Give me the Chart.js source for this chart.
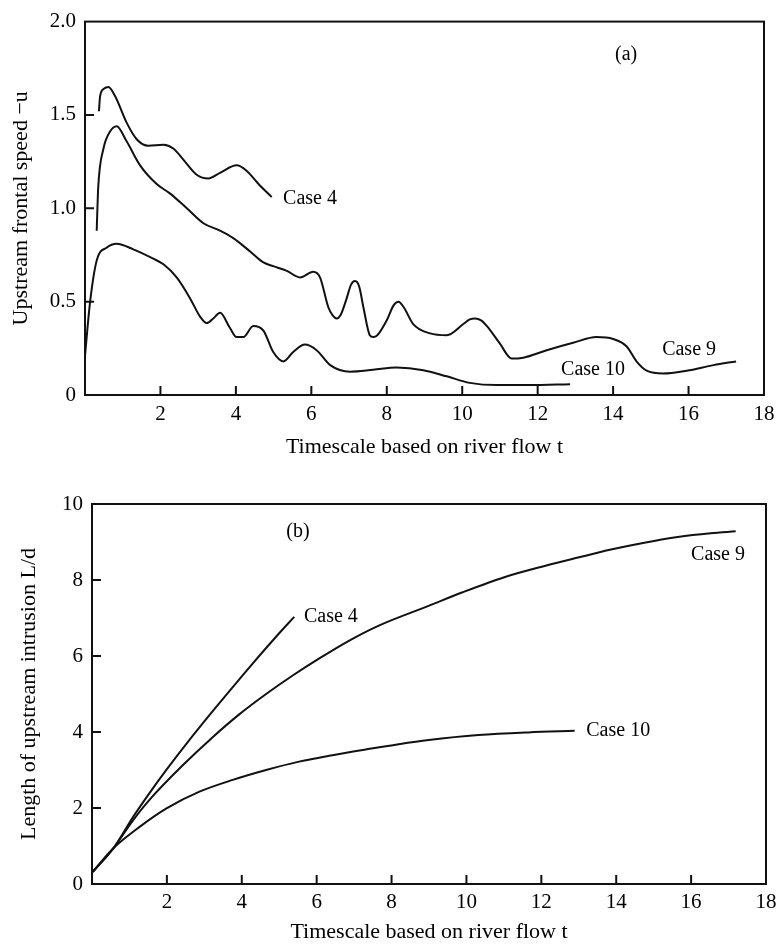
<!DOCTYPE html>
<html><head><meta charset="utf-8">
<script src="https://cdn.jsdelivr.net/npm/chart.js@4.4.0/dist/chart.umd.min.js"></script>
<style>
html,body{margin:0;padding:0;background:#fff;overflow:hidden;}
#wrap{position:relative;width:776px;height:949px;overflow:hidden;background:#fff;}
canvas{position:absolute;left:0;}
#ca{top:0;} #cb{top:470px;}
</style></head><body>
<div id="wrap"><canvas id="ca" width="800" height="470"></canvas><canvas id="cb" width="800" height="479"></canvas></div>
<script>
// ---------- Panel (a): upstream frontal speed -u ----------
const case4A_t = [0.37, 0.40, 0.50, 0.62, 0.80, 1.10, 1.37, 1.68, 2.08, 2.34, 2.65, 2.96, 3.27, 3.58, 4.02, 4.29, 4.60, 4.95];
const case4A_u = [1.52, 1.60, 1.64, 1.65, 1.60, 1.46, 1.37, 1.335, 1.34, 1.32, 1.25, 1.18, 1.16, 1.19, 1.23, 1.20, 1.13, 1.06];

const case9A_t = [0.31, 0.35, 0.49, 0.66, 0.84, 1.10, 1.46, 1.90, 2.25, 2.70, 3.14, 3.58, 3.93, 4.37, 4.73, 4.99, 5.35, 5.70, 6.05, 6.23, 6.45, 6.57, 6.67, 6.78, 6.94, 7.05, 7.16, 7.27, 7.38, 7.55, 7.64, 7.75, 8.00, 8.18, 8.31, 8.45, 8.70, 9.15, 9.59, 10.03, 10.20, 10.34, 10.50, 10.65, 11.00, 11.31, 11.62, 12.24, 12.94, 13.56, 14.00, 14.36, 14.62, 14.89, 15.33, 15.95, 16.66, 17.26];
const case9A_u = [0.88, 1.11, 1.32, 1.41, 1.44, 1.36, 1.23, 1.13, 1.08, 1.00, 0.92, 0.88, 0.84, 0.77, 0.71, 0.69, 0.665, 0.63, 0.66, 0.63, 0.47, 0.425, 0.41, 0.43, 0.52, 0.59, 0.61, 0.58, 0.47, 0.32, 0.31, 0.32, 0.40, 0.48, 0.50, 0.47, 0.38, 0.33, 0.32, 0.38, 0.405, 0.41, 0.40, 0.37, 0.275, 0.195, 0.20, 0.24, 0.28, 0.31, 0.30, 0.26, 0.18, 0.13, 0.115, 0.13, 0.16, 0.18];

const case10A_t = [0.00, 0.13, 0.31, 0.58, 0.84, 1.28, 1.81, 2.08, 2.43, 2.78, 3.05, 3.23, 3.40, 3.58, 3.84, 4.02, 4.20, 4.46, 4.73, 4.99, 5.26, 5.52, 5.83, 6.14, 6.50, 7.03, 7.64, 8.26, 8.97, 9.59, 10.20, 10.91, 11.80, 12.86];
const case10A_u = [0.21, 0.49, 0.72, 0.79, 0.81, 0.78, 0.73, 0.70, 0.63, 0.52, 0.42, 0.385, 0.41, 0.44, 0.36, 0.31, 0.31, 0.37, 0.345, 0.23, 0.18, 0.23, 0.27, 0.24, 0.16, 0.125, 0.135, 0.147, 0.133, 0.10, 0.065, 0.053, 0.053, 0.058];

// ---------- Panel (b): length of upstream intrusion L/d ----------
const case4B_t = [0.02, 0.57, 1.10, 1.54, 1.99, 2.52, 3.00, 3.58, 4.29, 4.91, 5.40];
const case4B_L = [0.32, 0.94, 1.77, 2.40, 3.01, 3.69, 4.28, 4.97, 5.80, 6.50, 7.03];

const case9B_t = [0.02, 0.57, 1.10, 1.54, 2.43, 3.23, 3.94, 4.65, 5.35, 6.06, 6.86, 7.66, 8.99, 9.88, 11.03, 12.09, 12.98, 13.86, 14.75, 15.64, 16.52, 17.19];
const case9B_L = [0.32, 0.94, 1.68, 2.22, 3.13, 3.87, 4.47, 5.00, 5.48, 5.93, 6.40, 6.80, 7.32, 7.67, 8.08, 8.37, 8.59, 8.80, 8.98, 9.13, 9.23, 9.28];

const case10B_t = [0.02, 0.57, 1.28, 1.99, 2.87, 3.76, 4.65, 5.53, 6.42, 7.31, 8.19, 8.99, 10.32, 11.65, 12.89];
const case10B_L = [0.32, 0.94, 1.51, 1.99, 2.43, 2.74, 3.00, 3.22, 3.39, 3.54, 3.68, 3.79, 3.92, 3.99, 4.03];

// ---------- Ticks ----------
const xTickValues = [0, 2, 4, 6, 8, 10, 12, 14, 16, 18];
const xTickLabels = ['', '2', '4', '6', '8', '10', '12', '14', '16', '18'];
const yTickValuesA = [0, 0.5, 1.0, 1.5, 2.0];
const yTickLabelsA = ['0', '0.5', '1.0', '1.5', '2.0'];
const yTickValuesB = [0, 2, 4, 6, 8, 10];
const yTickLabelsB = ['0', '2', '4', '6', '8', '10'];

// ---------- Texts ----------
const xTitle = 'Timescale based on river flow t';
const yTitleA = 'Upstream frontal speed \u2212u';
const yTitleB = 'Length of upstream intrusion L/d';
const notesA = [
  {text: 'Case 4', x: 5.25, y: 1.053},
  {text: 'Case 9', x: 15.3, y: 0.245},
  {text: 'Case 10', x: 12.62, y: 0.133},
  {text: '(a)', x: 14.05, y: 1.82}
];
const notesB = [
  {text: 'Case 4', x: 5.66, y: 7.03},
  {text: 'Case 9', x: 16.0, y: 8.66},
  {text: 'Case 10', x: 13.2, y: 4.03},
  {text: '(b)', x: 5.19, y: 9.26}
];

const FONT = '"Liberation Serif", "DejaVu Serif", serif';
const INK = '#111';

function pts(xs, ys) { return xs.map((v, i) => ({x: v, y: ys[i]})); }

function makeFrame(notes) {
  return {
    id: 'frame',
    afterDraw(chart) {
      const {ctx, chartArea: a, scales: {x, y}} = chart;
      ctx.save();
      ctx.strokeStyle = INK;
      ctx.lineWidth = 2;
      ctx.strokeRect(a.left, a.top, a.right - a.left, a.bottom - a.top);
      ctx.beginPath();
      x.ticks.forEach(t => {
        if (t.value <= x.min || t.value >= x.max) return;
        const px = x.getPixelForValue(t.value);
        ctx.moveTo(px, a.bottom); ctx.lineTo(px, a.bottom - 9);
      });
      y.ticks.forEach(t => {
        if (t.value <= y.min || t.value >= y.max) return;
        const py = y.getPixelForValue(t.value);
        ctx.moveTo(a.left, py); ctx.lineTo(a.left + 9, py);
      });
      ctx.stroke();
      ctx.fillStyle = '#000';
      ctx.font = '20px ' + FONT;
      ctx.textBaseline = 'middle';
      ctx.textAlign = 'left';
      notes.forEach(n => ctx.fillText(n.text, x.getPixelForValue(n.x), y.getPixelForValue(n.y)));
      ctx.restore();
    }
  };
}

function ds(data) {
  return {data, borderColor: INK, borderWidth: 2, pointRadius: 0, fill: false,
          cubicInterpolationMode: 'monotone'};
}

function makeChart(id, series, yVals, yLabs, yMax, yTitle, geom, notes) {
  return new Chart(document.getElementById(id), {
    type: 'line',
    data: {datasets: series.map(ds)},
    options: {
      responsive: false,
      animation: false,
      events: [],
      layout: {padding: {left: 0, top: geom.top, right: geom.right, bottom: 0}},
      plugins: {legend: {display: false}, tooltip: {enabled: false}},
      scales: {
        x: {
          type: 'linear', min: 0, max: 18,
          afterBuildTicks: s => { s.ticks = xTickValues.map(v => ({value: v})); },
          afterFit: s => { s.height = geom.xh; },
          grid: {display: false, drawTicks: false},
          border: {display: false},
          ticks: {
            padding: geom.xpad, color: '#000', font: {family: FONT, size: 21},
            autoSkip: false, maxRotation: 0,
            callback: (v) => { const i = xTickValues.indexOf(v); return i >= 0 ? xTickLabels[i] : ''; }
          },
          title: {display: true, text: xTitle, color: '#000', font: {family: FONT, size: 22},
                  padding: {top: 0, bottom: geom.xtp}}
        },
        y: {
          type: 'linear', min: 0, max: yMax,
          afterBuildTicks: s => { s.ticks = yVals.map(v => ({value: v})); },
          afterFit: s => { s.width = geom.yw; },
          grid: {display: false, drawTicks: false},
          border: {display: false},
          ticks: {
            padding: 9, color: '#000', font: {family: FONT, size: 21}, autoSkip: false,
            callback: (v) => { const i = yVals.indexOf(v); return i >= 0 ? yLabs[i] : ''; }
          },
          title: {display: true, text: yTitle, color: '#000', font: {family: FONT, size: 22},
                  padding: {top: geom.ytp, bottom: 0}}
        }
      }
    },
    plugins: [makeFrame(notes)]
  });
}

makeChart('ca',
  [pts(case4A_t, case4A_u), pts(case9A_t, case9A_u), pts(case10A_t, case10A_u)],
  yTickValuesA, yTickLabelsA, 2.0, yTitleA,
  {top: 17, right: 36, xh: 75, yw: 85, xpad: 7, xtp: 10, ytp: 8}, notesA);

makeChart('cb',
  [pts(case4B_t, case4B_L), pts(case9B_t, case9B_L), pts(case10B_t, case10B_L)],
  yTickValuesB, yTickLabelsB, 10, yTitleB,
  {top: 34, right: 34, xh: 65, yw: 92, xpad: 6, xtp: 4, ytp: 16}, notesB);
</script>
</body></html>
